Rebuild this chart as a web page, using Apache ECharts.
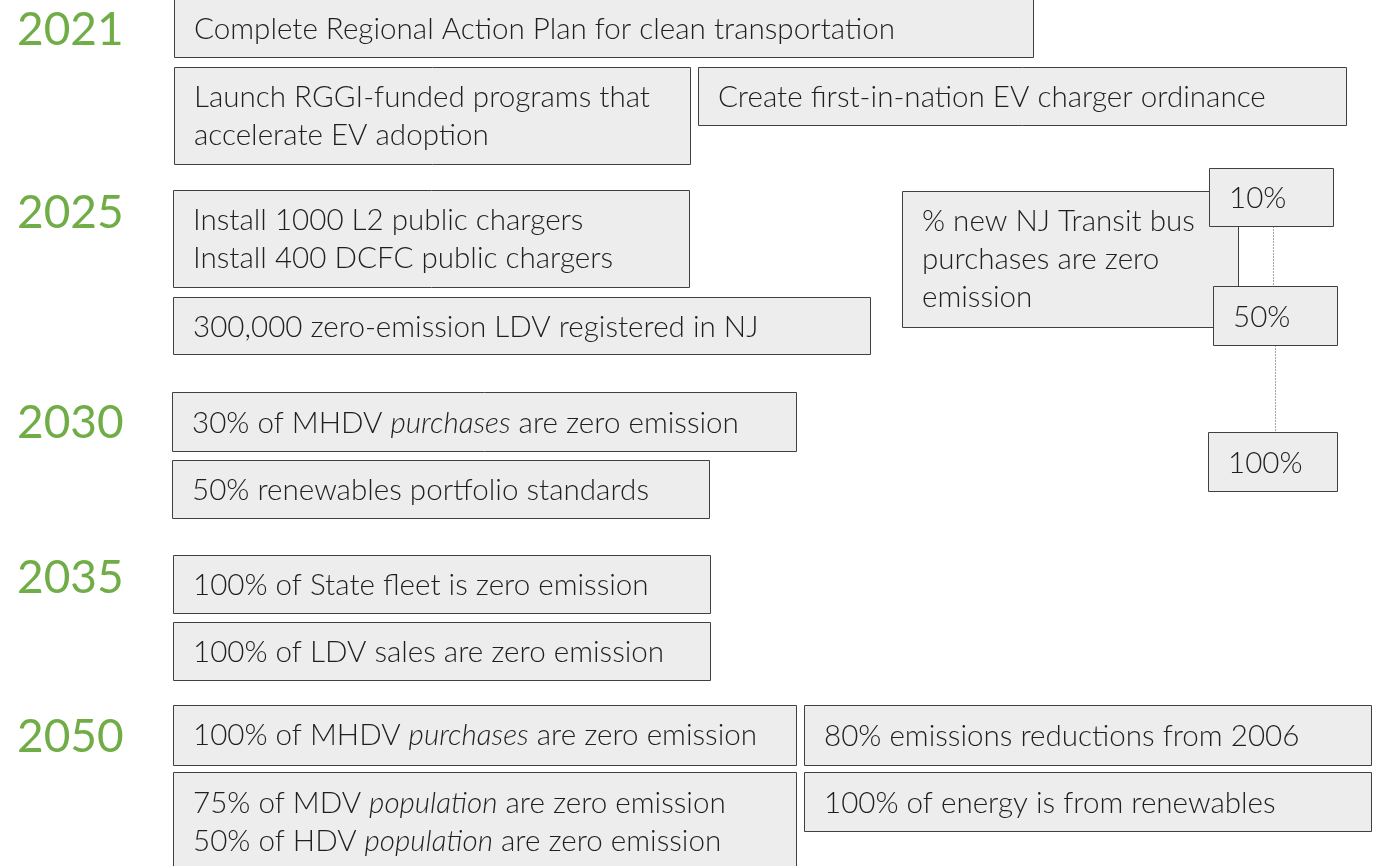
<!DOCTYPE html>
<html>
<head>
<meta charset="utf-8">
<script src="https://cdn.jsdelivr.net/npm/echarts@6/dist/echarts.min.js"></script>
<style>
html,body{margin:0;padding:0;background:#fff;}
#chart{width:1377px;height:866px;}
</style>
</head>
<body>
<div id="chart"></div>
<script>
// ---- content ----
const years = ['2021', '2025', '2030', '2035', '2050'];
const yearRowY = [30, 213, 423, 578, 737];

const milestoneTexts = [
  'Complete Regional Action Plan for clean transportation',
  'Launch RGGI-funded programs that\naccelerate EV adoption',
  'Create first-in-nation EV charger ordinance',
  'Install 1000 L2 public chargers\nInstall 400 DCFC public chargers',
  '300,000 zero-emission LDV registered in NJ',
  '% new NJ Transit bus\npurchases are zero\nemission',
  '10%',
  '50%',
  '100%',
  '30% of MHDV {i|purchases} are zero emission',
  '50% renewables portfolio standards',
  '100% of State fleet is zero emission',
  '100% of LDV sales are zero emission',
  '100% of MHDV {i|purchases} are zero emission',
  '80% emissions reductions from 2006',
  '75% of MDV {i|population} are zero emission\n50% of HDV {i|population} are zero emission',
  '100% of energy is from renewables'
];

// ---- layout (box extents in page pixels: x0, y0, x1, y1) ----
const boxLayout = [
  [174, -2, 1033, 57],
  [174, 67, 690, 164],
  [698, 67, 1346, 125],
  [173, 190, 689, 287],
  [173, 297, 870, 354],
  [902, 191, 1238, 327],
  [1209, 168, 1333, 226],
  [1213, 286, 1337, 345],
  [1208, 432, 1337, 491],
  [172, 392, 796, 451],
  [172, 460, 709, 518],
  [173, 555, 710, 613],
  [173, 622, 710, 680],
  [173, 705, 796, 765],
  [804, 705, 1371, 765],
  [173, 772, 796, 880],
  [804, 772, 1371, 831]
];
// first text-line centre inside each box
const textTopY = [29, 97, 97, 220, 327, 221, 198, 317, 463, 423, 490, 585, 652, 735, 736, 803, 803];
// dotted connectors between percentage boxes (box index pairs)
const connectors = [[6, 7], [7, 8]];

const chart = echarts.init(document.getElementById('chart'), null, {renderer: 'canvas'});

const FONT = 'Lato, "Open Sans", sans-serif';
const FS = 29.6;
const boxData = boxLayout.map((b, i) => [b[0], b[1], b[2], b[3], i]);
const connData = connectors.map(([a, b]) => {
  const A = boxLayout[a], B = boxLayout[b];
  const x = (Math.max(A[0], B[0]) + Math.min(A[2], B[2])) / 2;
  return [x, A[3], x, B[1]];
});
const yearData = years.map((y, i) => [17, yearRowY[i], i]);

chart.setOption({
  animation: false,
  grid: {left: 0, right: 0, top: 0, bottom: 0},
  xAxis: {type: 'value', min: 0, max: 1377, show: false},
  yAxis: {type: 'value', min: 0, max: 866, inverse: true, show: false},
  series: [
    {
      type: 'custom',
      data: connData,
      z: 1,
      renderItem: function (params, api) {
        const p1 = api.coord([api.value(0), api.value(1)]);
        const p2 = api.coord([api.value(2), api.value(3)]);
        return {
          type: 'line',
          shape: {x1: Math.round(p1[0]) + 0.5, y1: p1[1], x2: Math.round(p2[0]) + 0.5, y2: p2[1]},
          style: {stroke: '#a6a6a6', lineWidth: 1, lineDash: [2, 1]}
        };
      }
    },
    {
      type: 'custom',
      data: boxData,
      z: 2,
      renderItem: function (params, api) {
        const idx = api.value(4);
        const p0 = api.coord([api.value(0), api.value(1)]);
        const p1 = api.coord([api.value(2), api.value(3)]);
        const tp = api.coord([api.value(0), textTopY[idx]]);
        return {
          type: 'group',
          children: [
            {
              type: 'rect',
              shape: {x: Math.round(p0[0]) + 0.5, y: Math.round(p0[1]) + 0.5, width: Math.round(p1[0] - p0[0]), height: Math.round(p1[1] - p0[1])},
              style: {fill: '#ededed', stroke: '#404040', lineWidth: 1}
            },
            {
              type: 'text',
              style: {
                text: milestoneTexts[idx],
                x: p0[0] + 20,
                y: tp[1] - 19,
                fill: '#1f1f1f',
                font: '300 ' + FS + 'px ' + FONT,
                lineHeight: 38,
                verticalAlign: 'top',
                rich: {
                  i: {fontStyle: 'italic', fontWeight: 300, fontSize: FS, fontFamily: FONT, lineHeight: 38, fill: '#1f1f1f'}
                }
              }
            }
          ]
        };
      }
    },
    {
      type: 'custom',
      data: yearData,
      z: 3,
      renderItem: function (params, api) {
        const p = api.coord([api.value(0), api.value(1)]);
        return {
          type: 'text',
          style: {
            text: years[api.value(2)],
            x: p[0], y: p[1],
            fill: '#70ad47',
            font: '400 46px ' + FONT,
            verticalAlign: 'middle'
          }
        };
      }
    }
  ]
});
</script>
</body>
</html>
